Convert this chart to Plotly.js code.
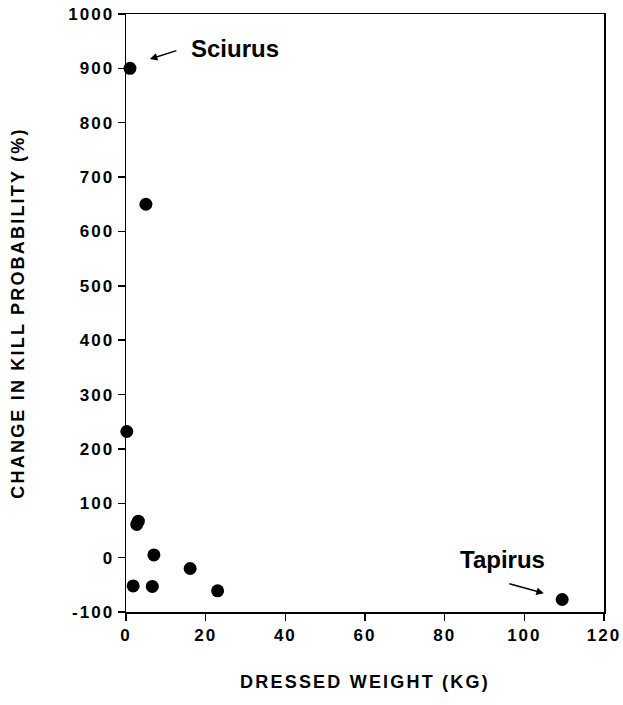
<!DOCTYPE html>
<html>
<head>
<meta charset="utf-8">
<script src="https://cdn.plot.ly/plotly-3.0.1.min.js"></script>
<style>
  html, body { margin: 0; padding: 0; background: #fff; }
  #chart { width: 623px; height: 705px; }
  #chart .xtick text, #chart .ytick text { letter-spacing: 2px; }
  #chart .xtitle, #chart .ytitle { letter-spacing: 2.2px; }
</style>
</head>
<body>
<div id="chart"></div>
<script>
// Data
const dressedWeightKg = [1, 5, 0.2, 3.1, 2.7, 7, 1.8, 6.6, 16.1, 23, 109.5];
const changeInKillProbPct = [900, 650, 232, 67, 61, 5, -52, -53, -20, -61, -77];

const xTickVals = [0, 20, 40, 60, 80, 100, 120];
const xTickLabels = ['0', '20', '40', '60', '80', '100', '120'];
const yTickVals = [-100, 0, 100, 200, 300, 400, 500, 600, 700, 800, 900, 1000];
const yTickLabels = ['-100', '0', '100', '200', '300', '400', '500', '600', '700', '800', '900', '1000'];

const labelNames = ['Sciurus', 'Tapirus'];
const labelTextPos = [[15.8, 936], [83.3, -3]];
const arrowHeadPos = [[6.0, 917], [104.9, -65.7]];

const FONT = 'Liberation Sans, Arial, Helvetica, sans-serif';

const trace = {
  x: dressedWeightKg,
  y: changeInKillProbPct,
  type: 'scatter',
  mode: 'markers',
  cliponaxis: false,
  marker: { color: '#000', size: 13, line: { width: 0 } },
  hoverinfo: 'x+y'
};

const annotations = [
  { x: labelTextPos[0][0], y: labelTextPos[0][1], xref: 'x', yref: 'y', text: labelNames[0],
    showarrow: false, xanchor: 'left', yanchor: 'middle',
    font: { family: FONT, size: 24, color: '#000', weight: 700 } },
  { x: labelTextPos[1][0], y: labelTextPos[1][1], xref: 'x', yref: 'y', text: labelNames[1],
    showarrow: false, xanchor: 'left', yanchor: 'middle',
    font: { family: FONT, size: 24, color: '#000', weight: 700 } },
  { x: arrowHeadPos[0][0], y: arrowHeadPos[0][1], xref: 'x', yref: 'y', text: '',
    showarrow: true, ax: 28, ay: -9, arrowhead: 2, arrowsize: 1, arrowwidth: 1.5,
    arrowcolor: '#000', standoff: 0, startstandoff: 0 },
  { x: arrowHeadPos[1][0], y: arrowHeadPos[1][1], xref: 'x', yref: 'y', text: '',
    showarrow: true, ax: -36, ay: -10, arrowhead: 2, arrowsize: 1, arrowwidth: 1.5,
    arrowcolor: '#000', standoff: 0, startstandoff: 0 }
];

const layout = {
  width: 623,
  height: 705,
  margin: { l: 126, r: 19, t: 14, b: 93 },
  paper_bgcolor: '#fff',
  plot_bgcolor: '#fff',
  showlegend: false,
  font: { family: FONT, color: '#000', size: 17, weight: 700 },
  xaxis: {
    range: [0, 120],
    tickmode: 'array',
    tickvals: xTickVals,
    ticktext: xTickLabels,
    ticks: 'outside',
    ticklen: 7,
    tickwidth: 1.5,
    tickcolor: '#000',
    showline: true,
    linecolor: '#000',
    linewidth: 1.5,
    mirror: true,
    showgrid: false,
    zeroline: false,
    tickfont: { family: FONT, size: 17, color: '#000', weight: 700 },
    title: { text: 'DRESSED WEIGHT (KG)', standoff: 31,
             font: { family: FONT, size: 18, color: '#000', weight: 700 } }
  },
  yaxis: {
    range: [-100, 1000],
    tickmode: 'array',
    tickvals: yTickVals,
    ticktext: yTickLabels,
    ticks: 'outside',
    ticklen: 7,
    tickwidth: 1.5,
    tickcolor: '#000',
    showline: true,
    linecolor: '#000',
    linewidth: 1.5,
    mirror: true,
    showgrid: false,
    zeroline: false,
    tickfont: { family: FONT, size: 17, color: '#000', weight: 700 },
    title: { text: 'CHANGE IN KILL PROBABILITY (%)', standoff: 47,
             font: { family: FONT, size: 18, color: '#000', weight: 700 } }
  },
  annotations: annotations
};

Plotly.newPlot('chart', [trace], layout, { staticPlot: true, displayModeBar: false });
</script>
</body>
</html>
